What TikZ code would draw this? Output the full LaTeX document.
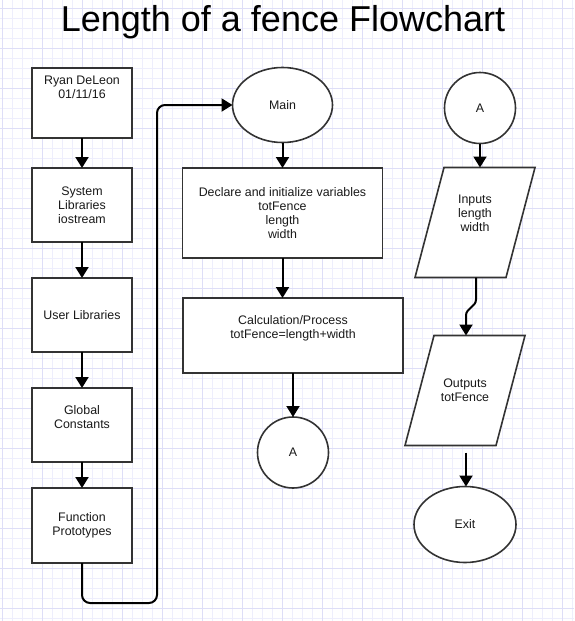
\documentclass[tikz,border=0pt]{standalone}
\usepackage{fontspec}
\setmainfont{Liberation Sans}
\usetikzlibrary{positioning,shapes.geometric,arrows.meta,backgrounds}
\definecolor{gridminor}{RGB}{238,238,252}
\definecolor{gridmajor}{RGB}{222,222,247}
\definecolor{shapeline}{RGB}{51,51,51}

\begin{document}
\begin{tikzpicture}[x=1pt,y=-1pt,
	every node/.style={font=\fontsize{12.4}{14}\selectfont,text=black!90,align=center,outer sep=0pt},
	proc/.style={draw=shapeline,line width=1.6pt,fill=white,rectangle,minimum width=100pt},
	term/.style={draw=shapeline,line width=1.6pt,fill=white,ellipse,minimum width=100pt,minimum height=75pt,inner sep=0pt},
	conn/.style={draw=shapeline,line width=1.6pt,fill=white,circle,minimum size=71pt,inner sep=0pt},
	io/.style={rectangle,minimum width=91pt,minimum height=110pt},
	ioline/.style={draw=shapeline,line width=1.6pt,fill=white},
	flow/.style={line width=2pt,-{Triangle[length=11pt,width=13pt]}}]
	% page and grid
	\useasboundingbox (0,0) rectangle (574,621);
	\begin{scope}[on background layer]
		\fill[white] (0,0) rectangle (574,621);
		\begin{scope}[shift={(2.7,8.3)}]
			\draw[gridminor,line width=0.8pt,step=10pt] (-2.7,-8.3) grid (571.3,612.7);
			\draw[gridmajor,line width=0.8pt,step=40pt] (-2.7,-8.3) grid (571.3,612.7);
		\end{scope}
	\end{scope}
	\node (title) [anchor=base,font=\fontsize{36}{40}\selectfont,text=black] at (283,31.5) {Length of a fence Flowchart};

	% left column
	\node (author)   [proc,minimum height=70pt,text depth=31pt] at (82,103) {Ryan DeLeon\\01/11/16};
	\node (syslib)   [proc,minimum height=74pt,below=30pt of author] {System\\Libraries\\iostream};
	\node (userlib)  [proc,minimum height=74pt,below=36pt of syslib] {User Libraries};
	\node (globals)  [proc,minimum height=74pt,text depth=16pt,below=36pt of userlib] {Global\\Constants};
	\node (protos)   [proc,minimum height=75pt,below=26pt of globals] {Function\\Prototypes};

	% middle column
	\node (main)     [term] at (282.5,105) {Main};
	\node (declare)  [proc,minimum width=200pt,minimum height=90pt,below=25.5pt of main] {Declare and initialize variables\\totFence\\length\\width};
	\node (calc)     [proc,minimum width=220pt,minimum height=75pt,text depth=16pt,below=40pt of declare,xshift=10.5pt] {Calculation/Process\\totFence=length+width};
	\node (toA)      [conn,below=44pt of calc] {A};

	% right column
	\node (fromA)    [conn] at (480,108) {A};
	\node (inputs)   [io,text depth=18pt,below=24pt of fromA,xshift=-5pt] {Inputs\\length\\width};
	\node (outputs)  [io,below=58pt of inputs,xshift=-10pt] {Outputs\\totFence};
	\node (exit)     [term,minimum width=102pt,minimum height=76pt,below=41pt of outputs] {Exit};

	% slanted outlines of the two io nodes
	\begin{scope}[on background layer]
		\draw[ioline] ([xshift=14.5pt]inputs.north west) -- ([xshift=14.5pt]inputs.north east)
			-- ([xshift=-14.5pt]inputs.south east) -- ([xshift=-14.5pt]inputs.south west) -- cycle;
		\draw[ioline] ([xshift=14.5pt]outputs.north west) -- ([xshift=14.5pt]outputs.north east)
			-- ([xshift=-14.5pt]outputs.south east) -- ([xshift=-14.5pt]outputs.south west) -- cycle;
	\end{scope}

	\draw[flow] (author) -- (syslib);
	\draw[flow] (syslib) -- (userlib);
	\draw[flow] (userlib) -- (globals);
	\draw[flow] (globals) -- (protos);
	\draw[flow,rounded corners=8pt] (protos.south) -- ++(0,40) -| ([xshift=-75.5pt]main.west) -- (main.west);
	\draw[flow] (main) -- (main |- declare.north);
	\draw[flow] (declare.south) -- (declare.south |- calc.north);
	\draw[flow] (calc) -- (toA);
	\draw[flow] (fromA) -- (fromA |- inputs.north);
	\draw[flow] ([xshift=1pt]inputs.south) -- ++(0,22) to[out=-90,in=90] ([yshift=20pt,xshift=1pt]outputs.north) -- ([xshift=1pt]outputs.north);
	\draw[flow,shorten <=7pt] ([xshift=1pt]outputs.south) -- ([xshift=1pt]exit.north);
\end{tikzpicture}
\end{document}
